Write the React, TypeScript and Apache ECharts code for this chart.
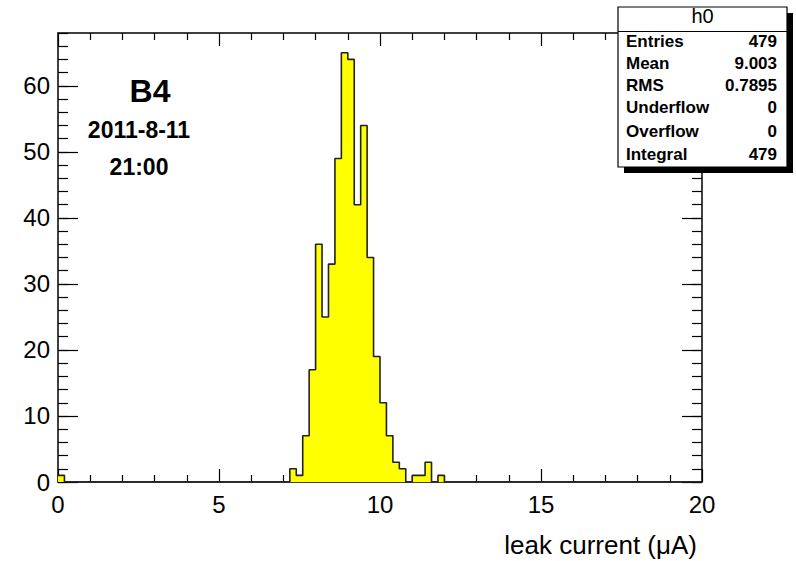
import React, { useEffect, useRef } from "react";
import * as echarts from "echarts";

// ---- data ----
const binWidth = 0.2;
const nBins = 100;
const filledBinStarts = [0.0, 7.2, 7.4, 7.6, 7.8, 8.0, 8.2, 8.4, 8.6, 8.8, 9.0, 9.2, 9.4, 9.6, 9.8, 10.0, 10.2, 10.4, 10.6, 10.8, 11.0, 11.2, 11.4, 11.6, 11.8];
const filledBinCounts = [1, 2, 1, 7, 17, 36, 25, 33, 49, 65, 64, 42, 54, 34, 19, 12, 7, 3, 2, 0, 1, 1, 3, 0, 1];

const statNames = ["Entries", "Mean", "RMS", "Underflow", "Overflow", "Integral"];
const statValues = ["479", "9.003", "0.7895", "0", "0", "479"];
const statTitle = "h0";
const labelLines = ["B4", "2011-8-11", "21:00"];
const xTitle = "leak current (\u03BCA)";

const FONT = "'Liberation Sans', Arial, Helvetica, sans-serif";

function buildSteps(): number[][] {
  const counts: number[] = new Array(nBins).fill(0);
  filledBinStarts.forEach((s, i) => {
    const k = Math.round(s / binWidth);
    counts[k] = filledBinCounts[i];
  });
  const pts: number[][] = [];
  for (let k = 0; k < nBins; k++) {
    pts.push([Math.round(k * binWidth * 10) / 10, counts[k]]);
  }
  pts.push([nBins * binWidth, counts[nBins - 1]]);
  return pts;
}

export default function App() {
  const ref = useRef<HTMLDivElement>(null);
  useEffect(() => {
    if (!ref.current) return;
    const chart = echarts.init(ref.current, undefined, { renderer: "svg" });
    const axisLine = { show: true, onZero: false, lineStyle: { color: "#000", width: 1.5 } };
    const noLine = { show: false, onZero: false };
    const tickStyle = { color: "#000", width: 1.2 };
    const xCommon = {
      type: "value" as const,
      min: 0,
      max: 20,
      interval: 5,
      axisLine,
      splitLine: { show: false },
      axisTick: { show: true, inside: true, length: 13, lineStyle: tickStyle },
      minorTick: { show: true, splitNumber: 5, length: 7, lineStyle: tickStyle },
    };
    const yBase = {
      type: "value" as const,
      min: 0,
      max: 68,
      splitLine: { show: false },
    };
    const stats: any[] = [];
    const bx = 618, by = 7, bw = 169, bh = 160;
    stats.push({ type: "rect", shape: { x: bx + 6, y: by + 6, width: bw, height: bh }, style: { fill: "#000" }, z: 100 });
    stats.push({ type: "rect", shape: { x: bx, y: by, width: bw, height: bh }, style: { fill: "#fff", stroke: "#000", lineWidth: 1.2 }, z: 101 });
    stats.push({ type: "line", shape: { x1: bx, y1: 31.5, x2: bx + bw, y2: 31.5 }, style: { stroke: "#000", lineWidth: 1.2 }, z: 102 });
    stats.push({ type: "text", x: bx + bw / 2, y: 16, style: { text: statTitle, font: `20px ${FONT}`, fill: "#000", textAlign: "center", textVerticalAlign: "middle" }, z: 102 });
    const rowY = [41.5, 63, 85, 107, 131.5, 154];
    statNames.forEach((n, i) => {
      stats.push({ type: "text", x: 626, y: rowY[i], style: { text: n, font: `bold 17px ${FONT}`, fill: "#000", textAlign: "left", textVerticalAlign: "middle" }, z: 102 });
      stats.push({ type: "text", x: 777, y: rowY[i], style: { text: statValues[i], font: `bold 17px ${FONT}`, fill: "#000", textAlign: "right", textVerticalAlign: "middle" }, z: 102 });
    });
    const annot: any[] = [
      { type: "text", x: 150, y: 91, style: { text: labelLines[0], font: `bold 32px ${FONT}`, fill: "#000", textAlign: "center", textVerticalAlign: "middle" } },
      { type: "text", x: 139, y: 130, style: { text: labelLines[1], font: `bold 23px ${FONT}`, fill: "#000", textAlign: "center", textVerticalAlign: "middle" } },
      { type: "text", x: 139, y: 167, style: { text: labelLines[2], font: `bold 23px ${FONT}`, fill: "#000", textAlign: "center", textVerticalAlign: "middle" } },
      { type: "text", x: 697, y: 545, style: { text: xTitle, font: `26px ${FONT}`, fill: "#000", textAlign: "right", textVerticalAlign: "middle" } },
    ];
    chart.setOption({
      animation: false,
      backgroundColor: "#fff",
      grid: { left: 58, right: 94, top: 33, bottom: 79, containLabel: false },
      xAxis: [
        { ...xCommon, position: "bottom", axisLabel: { show: true, fontSize: 24, color: "#000", fontFamily: FONT, margin: 10 } },
        { ...xCommon, position: "top", axisLabel: { show: false } },
      ],
      yAxis: [
        {
          ...yBase, position: "left", interval: 10, axisLine,
          axisTick: { show: true, inside: true, length: 20, lineStyle: tickStyle },
          axisLabel: { show: true, fontSize: 24, color: "#000", fontFamily: FONT, margin: 8, showMaxLabel: false },
        },
        {
          ...yBase, position: "left", interval: 2, axisLine: noLine,
          axisTick: { show: true, inside: true, length: 10, lineStyle: tickStyle },
          axisLabel: { show: false },
        },
        {
          ...yBase, position: "right", interval: 10, axisLine,
          axisTick: { show: true, inside: true, length: 20, lineStyle: tickStyle },
          axisLabel: { show: false },
        },
        {
          ...yBase, position: "right", interval: 2, axisLine: noLine,
          axisTick: { show: true, inside: true, length: 10, lineStyle: tickStyle },
          axisLabel: { show: false },
        },
      ],
      series: [
        {
          type: "line",
          xAxisIndex: 0,
          yAxisIndex: 0,
          step: "end",
          symbol: "none",
          data: buildSteps(),
          lineStyle: { color: "#222", width: 1.6 },
          areaStyle: { color: "#ffff00", opacity: 1 },
          z: 2,
        },
      ],
      graphic: [...annot, ...stats],
    });
    return () => chart.dispose();
  }, []);
  return <div ref={ref} style={{ position: "absolute", left: 0, top: 0, width: 796, height: 561 }} />;
}
